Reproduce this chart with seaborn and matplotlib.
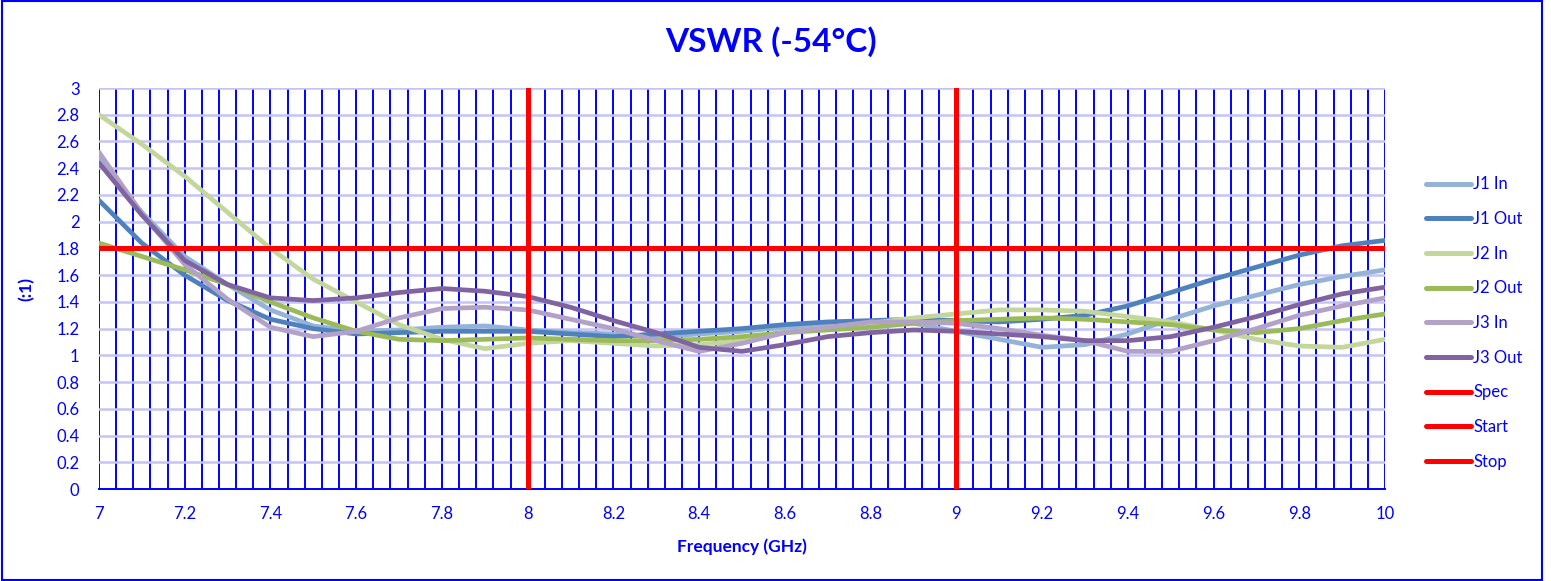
import numpy as np
import pandas as pd
import seaborn as sns
import matplotlib.pyplot as plt
from matplotlib.ticker import MultipleLocator, FuncFormatter
from matplotlib.patches import Rectangle

# frequency points (GHz)
freq = [7.0, 7.1, 7.2, 7.3, 7.4, 7.5, 7.6, 7.7, 7.8, 7.9, 8.0,
        8.1, 8.2, 8.3, 8.4, 8.5, 8.6, 8.7, 8.8, 8.9, 9.0,
        9.1, 9.2, 9.3, 9.4, 9.5, 9.6, 9.7, 9.8, 9.9, 10.0]

j1_in = [2.47, 2.07, 1.74, 1.53, 1.34, 1.22, 1.18, 1.19, 1.21, 1.22, 1.19,
         1.17, 1.16, 1.14, 1.16, 1.18, 1.21, 1.23, 1.23, 1.24, 1.18,
         1.12, 1.06, 1.08, 1.16, 1.27, 1.37, 1.45, 1.53, 1.59, 1.64]
j1_out = [2.16, 1.84, 1.60, 1.41, 1.27, 1.20, 1.16, 1.17, 1.18, 1.18, 1.18,
          1.16, 1.14, 1.16, 1.18, 1.20, 1.23, 1.25, 1.26, 1.27, 1.26,
          1.25, 1.27, 1.30, 1.37, 1.47, 1.57, 1.66, 1.75, 1.82, 1.86]
j2_in = [2.80, 2.58, 2.34, 2.07, 1.80, 1.57, 1.40, 1.23, 1.12, 1.05, 1.09,
         1.11, 1.09, 1.07, 1.08, 1.11, 1.17, 1.21, 1.24, 1.28, 1.31,
         1.34, 1.34, 1.33, 1.29, 1.25, 1.19, 1.12, 1.07, 1.06, 1.12]
j2_out = [1.84, 1.74, 1.64, 1.53, 1.40, 1.28, 1.18, 1.12, 1.11, 1.12, 1.13,
          1.12, 1.11, 1.11, 1.12, 1.14, 1.17, 1.19, 1.21, 1.24, 1.26,
          1.27, 1.28, 1.27, 1.25, 1.23, 1.19, 1.17, 1.20, 1.26, 1.31]
j3_in = [2.52, 2.06, 1.68, 1.42, 1.21, 1.14, 1.18, 1.28, 1.35, 1.36, 1.34,
         1.27, 1.20, 1.11, 1.03, 1.09, 1.17, 1.21, 1.25, 1.25, 1.24,
         1.20, 1.15, 1.11, 1.03, 1.03, 1.11, 1.20, 1.30, 1.37, 1.43]
j3_out = [2.44, 2.05, 1.71, 1.53, 1.43, 1.41, 1.43, 1.47, 1.50, 1.48, 1.44,
          1.36, 1.26, 1.17, 1.06, 1.03, 1.08, 1.14, 1.17, 1.19, 1.18,
          1.16, 1.14, 1.11, 1.11, 1.14, 1.21, 1.29, 1.38, 1.46, 1.51]

# limit lines
spec_x = [7.0, 10.0]
spec_y = [1.8, 1.8]
start_x = [8.0, 8.0]
stop_x = [9.0, 9.0]
vert_y = [0.0, 3.0]

series = {
    'J1 In': j1_in, 'J1 Out': j1_out,
    'J2 In': j2_in, 'J2 Out': j2_out,
    'J3 In': j3_in, 'J3 Out': j3_out,
}
colors = {
    'J1 In': '#95B3D7', 'J1 Out': '#4F81BD',
    'J2 In': '#C3D69B', 'J2 Out': '#9BBB59',
    'J3 In': '#B3A2C7', 'J3 Out': '#8064A2',
}

rows = []
for name, vals in series.items():
    for f, v in zip(freq, vals):
        rows.append({'Frequency (GHz)': f, 'VSWR': v, 'Port': name})
df = pd.DataFrame(rows)

sns.set_style("white")
plt.rcParams['font.family'] = ['Lato', 'DejaVu Sans']

blue = '#0000FF'
fig = plt.figure(figsize=(15.51, 5.81), dpi=100)
ax = fig.add_axes([0.0638, 0.1583, 0.8292, 0.6902])

sns.lineplot(data=df, x='Frequency (GHz)', y='VSWR', hue='Port',
             palette=colors, linewidth=3.4, ax=ax, sort=False, zorder=3)

ax.plot(spec_x, spec_y, color='#FF0000', lw=3.6, label='Spec', zorder=4)
ax.plot(start_x, vert_y, color='#FF0000', lw=3.6, label='Start', zorder=4)
ax.plot(stop_x, vert_y, color='#FF0000', lw=3.6, label='Stop', zorder=4)

ax.set_xlim(7, 10)
ax.set_ylim(0, 3)
ax.xaxis.set_major_locator(MultipleLocator(0.2))
ax.xaxis.set_minor_locator(MultipleLocator(0.04))
ax.yaxis.set_major_locator(MultipleLocator(0.2))
fmt = FuncFormatter(lambda v, p: '{:g}'.format(round(v, 2)))
ax.xaxis.set_major_formatter(fmt)
ax.yaxis.set_major_formatter(fmt)

ax.grid(True, axis='x', which='both', color=blue, lw=1.4, zorder=1)
ax.grid(True, axis='y', which='major', color='#C4C4F6', lw=1.8, zorder=1)
ax.set_axisbelow(True)
for s in ['top', 'right', 'left']:
    ax.spines[s].set_visible(False)
ax.spines['bottom'].set_color(blue)
ax.spines['bottom'].set_linewidth(1.4)

ax.tick_params(axis='both', which='both', length=0, labelcolor=blue, labelsize=12)
ax.tick_params(axis='y', pad=14)
ax.tick_params(axis='x', pad=12)

ax.set_xlabel('Frequency (GHz)', color=blue, fontsize=12.5, fontweight='bold', labelpad=12)
ax.set_ylabel('(:1)', color=blue, fontsize=12.5, fontweight='bold', labelpad=16)
fig.suptitle('VSWR (-54°C)', color=blue, fontsize=24, fontweight='bold',
             x=0.497, y=0.955)

handles, labels = ax.get_legend_handles_labels()
leg = ax.legend(handles, labels, loc='center left', bbox_to_anchor=(1.02, 0.414),
                frameon=False, fontsize=12, labelcolor=blue, handlelength=2.7,
                handletextpad=0.15, labelspacing=1.12)
for h in leg.get_lines():
    h.set_linewidth(3.6)

fig.add_artist(Rectangle((0.001, 0.001), 0.993, 0.997, transform=fig.transFigure,
                         fill=False, edgecolor=blue, lw=1.5))

fig.savefig('out.png', dpi=100)
